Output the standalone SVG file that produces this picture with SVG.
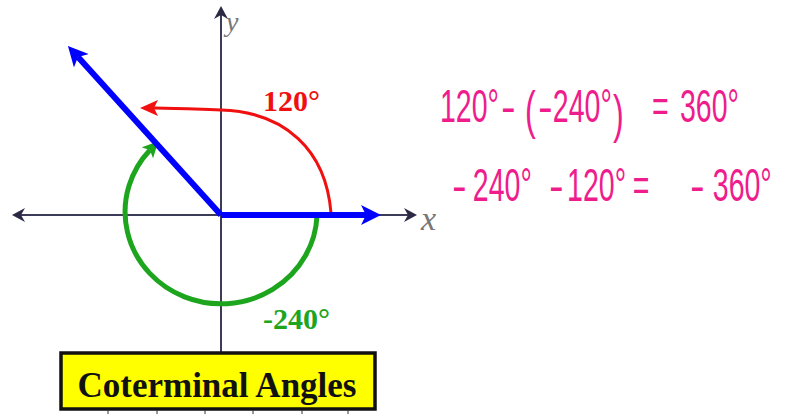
<svg xmlns="http://www.w3.org/2000/svg" width="792" height="414" viewBox="0 0 792 414">
<style>
.axis{stroke:#3c3c58;stroke-width:2;fill:none}
.axhead{fill:#2a2a45}
.blue{stroke:#0000ff;stroke-width:6;fill:none;stroke-linecap:butt}
.red{stroke:#f01010;stroke-width:3;fill:none}
.green{stroke:#1ea51e;stroke-width:5;fill:none}
.lbl{font-family:"Liberation Serif","Times New Roman",serif;font-weight:bold;font-size:30px}
.axl{font-family:"Liberation Serif","Times New Roman",serif;font-style:italic;fill:#777}
.hand{font-family:"Liberation Sans",Arial,sans-serif;font-size:46px;fill:#ee1c8c}
.par{font-size:52px}
.dash{font-family:"Liberation Sans",Arial,sans-serif;font-size:44px;fill:#ee1c8c}
</style>
<defs>
<marker id="blueArrow" viewBox="0 0 20 20" refX="5" refY="10" markerWidth="20" markerHeight="20" markerUnits="userSpaceOnUse" orient="auto">
<path d="M0,0 L20,10 L0,20 L5,10 z" fill="#0000ff"/>
</marker>
<marker id="redArrow" viewBox="0 0 18 16" refX="4" refY="8" markerWidth="18" markerHeight="16" markerUnits="userSpaceOnUse" orient="auto">
<path d="M0,0 L18,8 L0,16 L4,8 z" fill="#f01010"/>
</marker>
<marker id="greenArrow" viewBox="0 0 16 16" refX="4" refY="8" markerWidth="16" markerHeight="16" markerUnits="userSpaceOnUse" orient="auto">
<path d="M0,0 L16,8 L0,16 L4,8 z" fill="#1ea51e"/>
</marker>
</defs>

<g id="axes">
<line class="axis" x1="20" y1="215" x2="410" y2="215"/>
<line class="axis" x1="221" y1="14" x2="221" y2="353"/>
<polygon class="axhead" points="12,215 25,208 21,215 25,222"/>
<polygon class="axhead" points="417,215 404,208 408,215 404,222"/>
<polygon class="axhead" points="221,6 214,19 221,15 228,19"/>
<text class="axl" x="226" y="31" font-size="28">y</text>
<text class="axl" x="421" y="230" font-size="34">x</text>
</g>

<g id="connectors">
<path class="red" d="M 331 213 C 326 150, 285 112, 221 110 C 190 109, 170 108, 154 108" marker-end="url(#redArrow)"/>
<path class="green" d="M 317 216 A 96 92 0 1 1 150 150" marker-end="url(#greenArrow)"/>
<line class="blue" x1="221" y1="215" x2="78" y2="57" marker-end="url(#blueArrow)"/>
<line class="blue" x1="221" y1="215" x2="366" y2="215" marker-end="url(#blueArrow)"/>
</g>

<g id="label-120">
<text class="lbl" x="263" y="111" fill="#f01010">120°</text>
</g>
<g id="label-240">
<text class="lbl" x="263" y="329" fill="#1ea51e">-240°</text>
</g>

<g id="title">
<rect x="61" y="353" width="314" height="56" fill="#ffff00" stroke="#111" stroke-width="3.5"/>
<text x="217" y="397" text-anchor="middle" font-family="'Liberation Serif','Times New Roman',serif" font-weight="bold" font-size="35" fill="#111">Coterminal Angles</text>
<g stroke="#333" stroke-width="1">
<line x1="108" y1="410" x2="108" y2="414"/>
<line x1="157" y1="410" x2="157" y2="414"/>
<line x1="205" y1="410" x2="205" y2="414"/>
<line x1="253" y1="410" x2="253" y2="414"/>
<line x1="302" y1="410" x2="302" y2="414"/>
<line x1="348" y1="410" x2="348" y2="414"/>
</g>
</g>

<g id="equation1">
<g class="hand" transform="translate(440,0) scale(0.62,1)">
<text x="0" y="122">120°</text>
<text class="par" x="137" y="128">(</text>
<text x="182" y="122">240°</text>
<text class="par" x="279" y="132">)</text>
<text x="342" y="122">=</text>
<text x="387" y="122">360°</text>
</g>
<text class="dash" x="501" y="122">-</text>
<text class="dash" x="538" y="122" font-size="40">-</text>
</g>

<g id="equation2">
<g class="hand" transform="translate(440,0) scale(0.62,1)">
<text x="53" y="201">240°</text>
<text x="205" y="201">120°</text>
<text x="311" y="201">=</text>
<text x="440" y="201">360°</text>
</g>
<text class="dash" x="452" y="201">-</text>
<text class="dash" x="549" y="201">-</text>
<text class="dash" x="690" y="201">-</text>
</g>
</svg>
